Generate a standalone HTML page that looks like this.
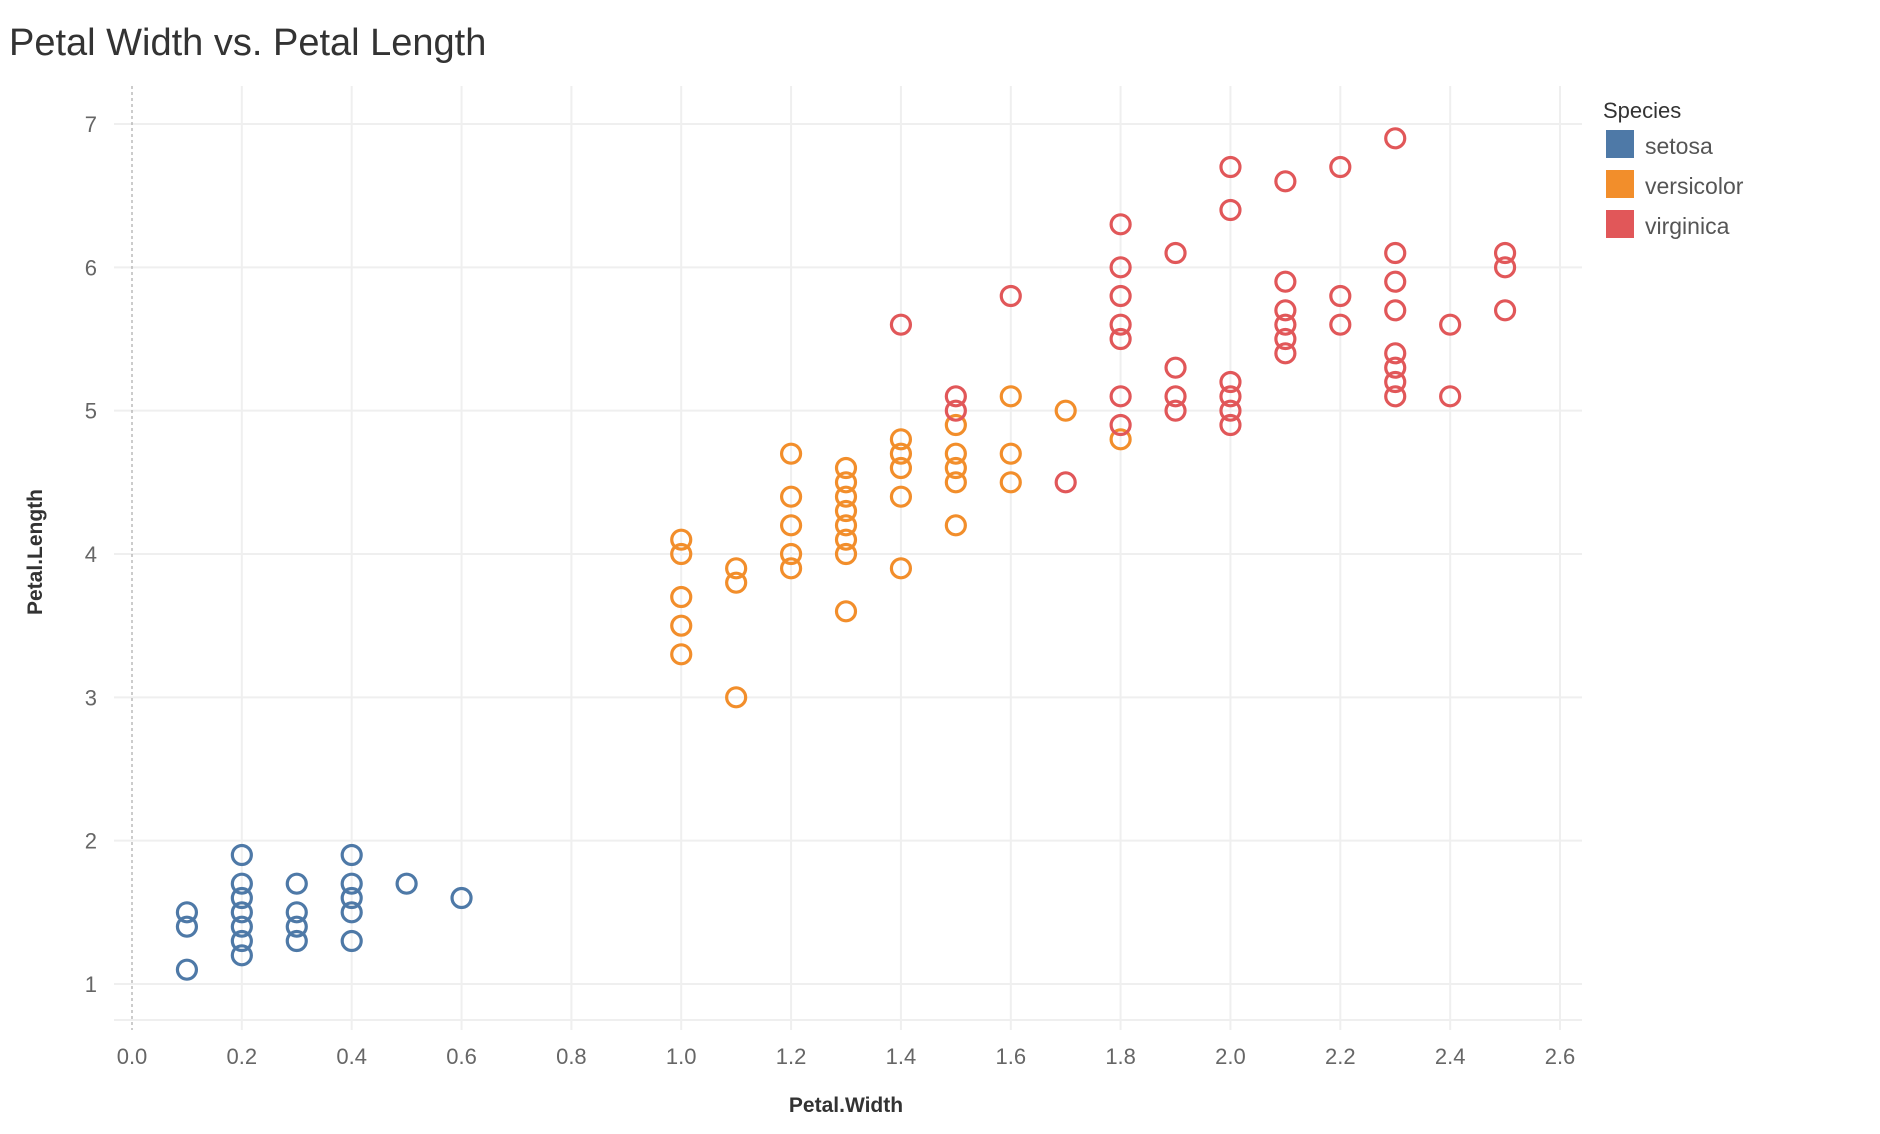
<!DOCTYPE html>
<html><head><meta charset="utf-8"><style>
body{margin:0;background:#fff;font-family:"Liberation Sans","DejaVu Sans",sans-serif;}
svg{display:block}
</style></head><body>
<svg id="chart" width="1880" height="1134" viewBox="0 0 1880 1134">
<text x="9" y="55" font-size="38" fill="#333">Petal Width vs. Petal Length</text>
<g id="grid"></g>
<g id="axes"></g>
<g id="marks"></g>
<text x="846" y="1112" font-size="21" fill="#333" text-anchor="middle" font-weight="bold">Petal.Width</text>
<text transform="translate(42,552) rotate(-90)" font-size="21" fill="#333" text-anchor="middle" font-weight="bold">Petal.Length</text>
<g>
<text x="1603" y="118" font-size="22" fill="#333">Species</text>
<g><rect x="1606" y="130" width="28" height="28" fill="#4e79a7"/><text x="1645" y="154" font-size="23" fill="#555">setosa</text></g>
<g><rect x="1606" y="170" width="28" height="28" fill="#f28e2b"/><text x="1645" y="194" font-size="23" fill="#555">versicolor</text></g>
<g><rect x="1606" y="210" width="28" height="28" fill="#e15759"/><text x="1645" y="234" font-size="23" fill="#555">virginica</text></g>
</g>
</svg>
<script>
const xTicks=[0,0.2,0.4,0.6,0.8,1.0,1.2,1.4,1.6,1.8,2.0,2.2,2.4,2.6];
const yTicks=[1,2,3,4,5,6,7];
const setosaX=[0.1,0.1,0.1,0.2,0.2,0.2,0.2,0.2,0.2,0.2,0.3,0.3,0.3,0.3,0.4,0.4,0.4,0.4,0.4,0.5,0.6];
const setosaY=[1.5,1.4,1.1,1.9,1.7,1.6,1.5,1.4,1.3,1.2,1.7,1.5,1.4,1.3,1.9,1.7,1.6,1.5,1.3,1.7,1.6];
const versicolorX=[1.0,1.0,1.0,1.0,1.0,1.1,1.1,1.1,1.2,1.2,1.2,1.2,1.2,1.3,1.3,1.3,1.3,1.3,1.3,1.3,1.3,1.4,1.4,1.4,1.4,1.4,1.5,1.5,1.5,1.5,1.5,1.6,1.6,1.6,1.7,1.8];
const versicolorY=[4.1,4.0,3.7,3.5,3.3,3.9,3.8,3.0,4.7,4.4,4.2,4.0,3.9,4.6,4.5,4.4,4.3,4.2,4.1,4.0,3.6,4.8,4.7,4.6,4.4,3.9,4.9,4.7,4.6,4.5,4.2,5.1,4.7,4.5,5.0,4.8];
const virginicaX=[1.4,1.5,1.5,1.6,1.7,1.8,1.8,1.8,1.8,1.8,1.8,1.8,1.9,1.9,1.9,1.9,2.0,2.0,2.0,2.0,2.0,2.0,2.1,2.1,2.1,2.1,2.1,2.1,2.2,2.2,2.2,2.3,2.3,2.3,2.3,2.3,2.3,2.3,2.3,2.4,2.4,2.5,2.5,2.5];
const virginicaY=[5.6,5.1,5.0,5.8,4.5,6.3,6.0,5.8,5.6,5.5,5.1,4.9,6.1,5.3,5.1,5.0,6.7,6.4,5.2,5.1,5.0,4.9,6.6,5.9,5.7,5.6,5.5,5.4,6.7,5.8,5.6,6.9,6.1,5.9,5.7,5.4,5.3,5.2,5.1,5.6,5.1,6.1,6.0,5.7];

const NS="http://www.w3.org/2000/svg";
const X0=132,XS=(1560-132)/2.6,Y0=984,YS=(984-124)/6;
function xs(v){return X0+v*XS;}
function ys(v){return Y0-(v-1)*YS;}
function mk(tag,attrs,parent){const e=document.createElementNS(NS,tag);for(const k in attrs)e.setAttribute(k,attrs[k]);parent.appendChild(e);return e;}
const grid=document.getElementById('grid'),axes=document.getElementById('axes'),marks=document.getElementById('marks');
xTicks.forEach(t=>{
  if(t>0){const l=mk('line',{x1:xs(t),x2:xs(t),y1:86,y2:1030,stroke:'#efefef','stroke-width':2},grid);
  
  }
  const tx=mk('text',{x:xs(t),y:1064,'font-size':22,fill:'#666','text-anchor':'middle'},axes);
  tx.textContent=t.toFixed(1);
  
  
});
yTicks.forEach(t=>{
  const l=mk('line',{x1:114,x2:1582,y1:ys(t),y2:ys(t),stroke:'#efefef','stroke-width':2},grid);
  
  
  const tx=mk('text',{x:97,y:ys(t)+8,'font-size':22,fill:'#666','text-anchor':'end'},axes);
  tx.textContent=t;
  
  
});
const bl=mk('line',{x1:114,x2:1582,y1:1020,y2:1020,stroke:'#efefef','stroke-width':2},grid);


const zl=mk('line',{x1:X0,x2:X0,y1:86,y2:1030,stroke:'#aaa','stroke-width':1.2,'stroke-dasharray':'3,3'},grid);


function series(xa,ya,color,name){
  xa.forEach((x,i)=>{
    const c=mk('circle',{cx:xs(x),cy:ys(ya[i]),r:9.5,fill:'none',stroke:color,'stroke-width':3.2},marks);
    
    
  });
}
series(setosaX,setosaY,'#4e79a7','setosa');
series(versicolorX,versicolorY,'#f28e2b','versicolor');
series(virginicaX,virginicaY,'#e15759','virginica');
</script>
</body></html>
